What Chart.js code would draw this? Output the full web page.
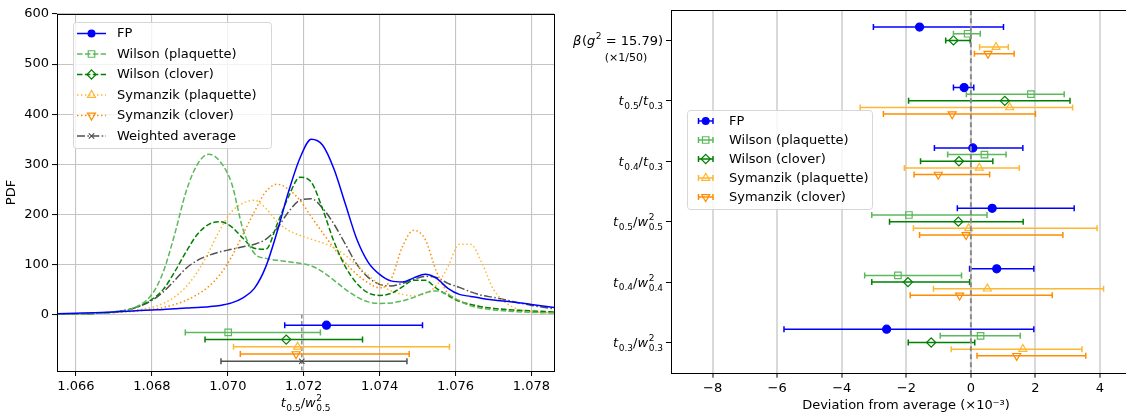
<!DOCTYPE html>
<html>
<head>
<meta charset="utf-8">
<script src="https://cdn.jsdelivr.net/npm/chart.js@4.4.1/dist/chart.umd.min.js"></script>
<style>
  html, body { margin: 0; padding: 0; background: #fff; overflow: hidden; width: 1126px; height: 417px; }
  #left { position: absolute; left: 0; top: 0; width: 560px; height: 417px; }
  #right { position: absolute; left: 560px; top: 0; width: 600px; height: 417px; }
</style>
</head>
<body>
<div id="left"><canvas id="pdf"></canvas></div>
<div id="right"><canvas id="dev"></canvas></div>
<script>
// ---- left panel: PDFs of t0.5/w0.5^2 ----
const seriesNames = ["FP", "Wilson (plaquette)", "Wilson (clover)", "Symanzik (plaquette)", "Symanzik (clover)", "Weighted average"];

const pdfX = [1.0655, 1.0660, 1.0665, 1.0670, 1.0675, 1.0680, 1.0683, 1.0686, 1.0689, 1.0692,
              1.0695, 1.0698, 1.0701, 1.0704, 1.0707, 1.0710, 1.0713, 1.0716, 1.0719, 1.0722,
              1.0725, 1.0728, 1.0731, 1.0734, 1.0737, 1.0740, 1.0743, 1.0746, 1.0749, 1.0752,
              1.0755, 1.0758, 1.0761, 1.0764, 1.0767, 1.0770, 1.0775, 1.0780, 1.0786];
const pdfFP = [1.5, 2.5, 3.5, 5, 7, 9, 10, 11.5, 13, 14,
               15.5, 18, 23, 33, 52, 95, 165, 245, 312, 350,
               338, 290, 220, 150, 104, 80, 67, 65, 73, 80,
               72, 52, 40, 36, 32, 29, 25, 20, 14];
const pdfWilsonPlaq = [0.5, 1, 2, 4, 12, 40, 85, 160, 245, 300,
                       320, 305, 262, 170, 122, 112, 108, 105, 102, 97,
                       85, 68, 50, 35, 25, 22, 23, 27, 34, 43,
                       47, 40, 27, 17, 12, 9, 6, 4, 3];
const pdfWilsonClov = [0.5, 1, 2, 5, 12, 30, 50, 85, 125, 160,
                       180, 185, 175, 152, 132, 130, 180, 235, 274, 264,
                       210, 145, 95, 62, 43, 38, 42, 55, 68, 68,
                       52, 38, 26, 20, 15, 12, 9, 7, 5];
const pdfSymPlaq = [0.5, 1, 2, 4, 8, 14, 22, 35, 55, 85,
                    125, 170, 205, 222, 228, 212, 185, 168, 158, 150,
                    143, 133, 118, 98, 78, 60, 47, 40, 37, 42,
                    58, 95, 140, 140, 102, 50, 15, 6, 3];
const pdfSymClov = [0.5, 1, 2, 4, 6, 10, 14, 20, 28, 40,
                    56, 80, 115, 160, 205, 245, 260, 250, 228, 195,
                    163, 132, 103, 80, 63, 53, 70, 135, 168, 150,
                    85, 42, 28, 20, 15, 12, 8, 5, 3];
const pdfAverage = [0.5, 1, 2, 5, 12, 28, 45, 68, 92, 108,
                    118, 125, 130, 135, 140, 150, 172, 205, 228, 231,
                    212, 180, 140, 100, 74, 60, 57, 62, 70, 76,
                    74, 62, 54, 45, 38, 34, 26, 18, 11];

// estimates with errors, same order as seriesNames
const estCenter = [1.07260, 1.07001, 1.07154, 1.07184, 1.07180, 1.07195];
const estLow    = [1.07150, 1.06888, 1.06940, 1.07015, 1.07033, 1.06982];
const estHigh   = [1.07513, 1.07244, 1.07355, 1.07584, 1.07478, 1.07472];

const pdfXTicks = [1.066, 1.068, 1.070, 1.072, 1.074, 1.076, 1.078];
const pdfYTicks = [0, 100, 200, 300, 400, 500, 600];

// ---- right panel: deviation from average (x1e-3) ----
const devCategories = ["\\beta(g^{2} = 15.79)", "t_{0.5}/t_{0.3}", "t_{0.4}/t_{0.3}",
                       "t_{0.5}/w^{2}_{0.5}", "t_{0.4}/w^{2}_{0.4}", "t_{0.3}/w^{2}_{0.3}"];
const devNotes = ["(×1/50)", "", "", "", "", ""];

const devFP     = [-1.59, -0.21,  0.06,  0.66,  0.80, -2.61];
const devFPLo   = [-3.02, -0.54, -1.13, -0.42, -0.04, -5.79];
const devFPHi   = [ 1.01,  0.09,  1.61,  3.20,  1.95,  1.95];
const devWP     = [-0.10,  1.86,  0.42, -1.92, -2.26,  0.30];
const devWPLo   = [-0.54, -0.14, -0.72, -3.07, -3.29, -0.95];
const devWPHi   = [ 0.29,  2.89,  1.09,  0.50, -0.29,  1.53];
const devWC     = [-0.54,  1.05, -0.37, -0.39, -1.95, -1.23];
const devWCLo   = [-0.78, -1.93, -1.56, -2.52, -3.07, -1.94];
const devWCHi   = [-0.02,  3.07,  0.68,  1.62, -0.04,  0.12];
const devSP     = [ 0.78,  1.20,  0.26, -0.07,  0.51,  1.61];
const devSPLo   = [ 0.27, -3.43, -2.06, -1.78, -1.16, -0.61];
const devSPHi   = [ 1.16,  3.15,  1.50,  3.91,  4.11,  3.44];
const devSC     = [ 0.53, -0.58, -1.01, -0.15, -0.35,  1.42];
const devSCLo   = [ 0.11, -2.71, -1.76, -1.59, -1.88,  0.19];
const devSCHi   = [ 1.34,  2.00,  0.58,  2.85,  2.52,  3.56];

const devXTicks = [-8, -6, -4, -2, 0, 2, 4];

// ---- styles ----
const FONT = '"DejaVu Sans"';
const styles = [
  { color: '#0000ff', dash: [], marker: 'circle', fill: true, r: 4 },
  { color: '#5cb85c', dash: [5.5, 2.4], marker: 'rect', fill: false, r: 4.6 },
  { color: '#008000', dash: [5.5, 2.4], marker: 'rectRot', fill: false, r: 4.6 },
  { color: '#ffb733', dash: [1.5, 2.5], marker: 'triangle', fill: false, r: 4.6, rot: 0 },
  { color: '#ff8c00', dash: [1.5, 2.5], marker: 'triangle', fill: false, r: 4.6, rot: 180 },
  { color: '#505050', dash: [8, 2.4, 1.5, 2.4], marker: 'crossRot', fill: false, r: 3.8 }
];

function drawMarker(ctx, st, x, y) {
  const r = st.r;
  ctx.save();
  ctx.setLineDash([]);
  ctx.strokeStyle = st.color;
  ctx.fillStyle = st.color;
  ctx.lineWidth = 1.2;
  ctx.translate(x, y);
  ctx.beginPath();
  if (st.marker === 'circle') {
    ctx.arc(0, 0, r, 0, Math.PI * 2);
  } else if (st.marker === 'rect') {
    const s = r * Math.SQRT1_2;
    ctx.rect(-s, -s, 2 * s, 2 * s);
  } else if (st.marker === 'rectRot') {
    ctx.moveTo(0, -r); ctx.lineTo(r, 0); ctx.lineTo(0, r); ctx.lineTo(-r, 0); ctx.closePath();
  } else if (st.marker === 'triangle') {
    ctx.rotate((st.rot || 0) * Math.PI / 180);
    for (let k = 0; k < 3; k++) {
      const a = k * 2 * Math.PI / 3;
      if (k === 0) ctx.moveTo(Math.sin(a) * r, -Math.cos(a) * r);
      else ctx.lineTo(Math.sin(a) * r, -Math.cos(a) * r);
    }
    ctx.closePath();
  } else if (st.marker === 'crossRot') {
    const s = r * Math.SQRT1_2;
    ctx.moveTo(-s, -s); ctx.lineTo(s, s); ctx.moveTo(-s, s); ctx.lineTo(s, -s);
  }
  if (st.fill) ctx.fill(); else ctx.stroke();
  ctx.restore();
}

// tiny TeX-ish renderer for axis labels: letters italic, ^{} sup, _{} sub
function parseMath(s) {
  s = s.replace('\\beta', 'β');
  const parts = [];
  let i = 0;
  while (i < s.length) {
    const c = s[i];
    if ((c === '^' || c === '_') && s[i + 1] === '{') {
      const j = s.indexOf('}', i);
      const txt = s.slice(i + 2, j);
      const kind = c === '^' ? 'sup' : 'sub';
      const prev = parts[parts.length - 1];
      if (prev && prev.k === 'sup' && kind === 'sub') {
        prev.k = 'ss'; prev.sup = prev.t; prev.sub = txt;
      } else {
        parts.push({ t: txt, k: kind });
      }
      i = j + 1;
    } else {
      parts.push({ t: c, k: /[a-zA-Zβ]/.test(c) ? 'i' : 'r' });
      i++;
    }
  }
  return parts;
}

function drawMath(ctx, s, x, base, align, size) {
  const parts = parseMath(s);
  const small = Math.round(size * 0.72);
  const fi = `italic ${size}px ${FONT}`, fr = `${size}px ${FONT}`, fs = `${small}px ${FONT}`;
  let w = 0;
  for (const p of parts) {
    if (p.k === 'ss') {
      ctx.font = fs;
      p.w = Math.max(ctx.measureText(p.sup).width, ctx.measureText(p.sub).width);
    } else {
      p.f = p.k === 'i' ? fi : p.k === 'r' ? fr : fs;
      ctx.font = p.f;
      p.w = ctx.measureText(p.t).width;
    }
    p.x = w;
    w += p.w + (p.k === 'i' ? 0.6 : 0);
  }
  const x0 = align === 'right' ? x - w : align === 'center' ? x - w / 2 : x;
  ctx.save();
  ctx.fillStyle = '#000';
  ctx.textAlign = 'left';
  ctx.textBaseline = 'alphabetic';
  for (const p of parts) {
    if (p.k === 'ss') {
      ctx.font = fs;
      ctx.fillText(p.sup, x0 + p.x, base - size * 0.45);
      ctx.fillText(p.sub, x0 + p.x, base + size * 0.32);
    } else {
      ctx.font = p.f;
      const dy = p.k === 'sub' ? size * 0.3 : p.k === 'sup' ? -size * 0.45 : 0;
      ctx.fillText(p.t, x0 + p.x, base + dy);
    }
  }
  ctx.restore();
}

function legendBox(ctx, x, y, w, h) {
  ctx.save();
  ctx.beginPath();
  ctx.roundRect(x + 0.5, y + 0.5, w, h, 3);
  ctx.fillStyle = 'rgba(255,255,255,0.8)';
  ctx.fill();
  ctx.strokeStyle = '#d6d6d6';
  ctx.lineWidth = 1;
  ctx.stroke();
  ctx.restore();
}

const framePlugin = {
  id: 'frame',
  afterDatasetsDraw(chart) {
    const { ctx, chartArea: a } = chart;
    ctx.save();
    ctx.strokeStyle = '#000';
    ctx.lineWidth = 1;
    ctx.strokeRect(Math.round(a.left) + 0.5, Math.round(a.top) + 0.5,
                   Math.round(a.right - a.left), Math.round(a.bottom - a.top));
    ctx.restore();
  }
};

// ---- left chart ----
const pdfSeries = [pdfFP, pdfWilsonPlaq, pdfWilsonClov, pdfSymPlaq, pdfSymClov, pdfAverage];
const pdfMin = -113, pdfMax = 600;
const errRowTop = -21.5, errRowStep = 14.4;

const pdfDatasets = [];
pdfSeries.forEach((vals, i) => {
  pdfDatasets.push({
    data: pdfX.map((x, k) => ({ x: x, y: vals[k] })),
    borderColor: styles[i].color,
    borderWidth: 1.5,
    borderDash: styles[i].dash,
    pointRadius: 0,
    cubicInterpolationMode: 'monotone',
    fill: false
  });
});
estCenter.forEach((c, i) => {
  const y = errRowTop - errRowStep * i;
  pdfDatasets.push({
    data: [{ x: estLow[i], y: y }, { x: estHigh[i], y: y }],
    borderColor: styles[i].color,
    borderWidth: 1.5,
    pointStyle: 'line',
    pointRotation: 90,
    pointRadius: 3,
    pointBorderColor: styles[i].color,
    pointBorderWidth: 1.5
  });
  pdfDatasets.push({
    data: [{ x: c, y: y }],
    showLine: false,
    pointStyle: styles[i].marker,
    pointRotation: styles[i].rot || 0,
    pointRadius: styles[i].r,
    pointBorderColor: styles[i].color,
    pointBackgroundColor: styles[i].fill ? styles[i].color : 'rgba(0,0,0,0)',
    pointBorderWidth: 1.2
  });
});
pdfDatasets.push({
  data: [{ x: estCenter[5], y: 0 }, { x: estCenter[5], y: pdfMin }],
  borderColor: '#8c8c8c',
  borderWidth: 1.5,
  borderDash: [4, 2.5],
  pointRadius: 0
});

const pdfLegendPlugin = {
  id: 'pdfLegend',
  afterDraw(chart) {
    const ctx = chart.ctx;
    legendBox(ctx, 73, 22, 198, 126);
    seriesNames.forEach((name, i) => {
      const y = 33.5 + 20.5 * i;
      const st = styles[i];
      ctx.save();
      ctx.strokeStyle = st.color;
      ctx.lineWidth = 1.5;
      ctx.setLineDash(st.dash);
      ctx.beginPath();
      ctx.moveTo(77, y); ctx.lineTo(106, y);
      ctx.stroke();
      ctx.restore();
      drawMarker(ctx, st, 91.5, y);
      ctx.save();
      ctx.font = `13px ${FONT}`;
      ctx.fillStyle = '#000';
      ctx.textBaseline = 'middle';
      ctx.fillText(name, 117, y + 0.5);
      ctx.restore();
    });
    const a = chart.chartArea;
    drawMath(ctx, 't_{0.5}/w^{2}_{0.5}', (a.left + a.right) / 2, 407, 'center', 13);
  }
};

new Chart(document.getElementById('pdf'), {
  type: 'line',
  data: { datasets: pdfDatasets },
  options: {
    responsive: true,
    maintainAspectRatio: false,
    animation: false,
    devicePixelRatio: 1,
    layout: { padding: { top: 14, right: 4, left: 0, bottom: 0 } },
    plugins: { legend: { display: false }, tooltip: { enabled: false } },
    scales: {
      x: {
        type: 'linear',
        min: 1.0655,
        max: 1.0786,
        afterBuildTicks: s => { s.ticks = pdfXTicks.map(v => ({ value: v })); },
        afterFit: s => { s.height = 46; },
        ticks: { callback: v => v.toFixed(3), color: '#000', font: { family: 'DejaVu Sans', size: 13 }, maxRotation: 0, autoSkip: false, padding: 3 },
        grid: { color: '#c4c4c4', lineWidth: 1.1, tickColor: '#000', tickLength: 5, tickWidth: 1 },
        border: { display: false }
      },
      y: {
        type: 'linear',
        min: pdfMin,
        max: pdfMax,
        afterBuildTicks: s => { s.ticks = pdfYTicks.map(v => ({ value: v })); },
        afterFit: s => { s.width = 57; },
        ticks: { color: '#000', font: { family: 'DejaVu Sans', size: 13 }, padding: 3 },
        grid: { color: '#c4c4c4', lineWidth: 1.1, tickColor: '#000', tickLength: 5, tickWidth: 1 },
        border: { display: false },
        title: { display: true, text: 'PDF', color: '#000', font: { family: 'DejaVu Sans', size: 13 }, padding: { top: 4, bottom: 0 } }
      }
    }
  },
  plugins: [framePlugin, pdfLegendPlugin]
});

// ---- right chart ----
const devSeries = [
  [devFP, devFPLo, devFPHi],
  [devWP, devWPLo, devWPHi],
  [devWC, devWCLo, devWCHi],
  [devSP, devSPLo, devSPHi],
  [devSC, devSCLo, devSCHi]
];
const rowOffset = 0.11;

const devDatasets = [{
  data: [{ x: 0, y: -0.5 }, { x: 0, y: 5.5 }],
  borderColor: '#8c8c8c',
  borderWidth: 2,
  borderDash: [5, 3],
  pointRadius: 0
}];
devSeries.forEach(([c, lo, hi], i) => {
  const off = (i - 2) * rowOffset;
  const bars = [];
  c.forEach((v, k) => {
    bars.push({ x: lo[k], y: k + off }, { x: hi[k], y: k + off }, { x: hi[k], y: null });
  });
  devDatasets.push({
    data: bars,
    spanGaps: false,
    borderColor: styles[i].color,
    borderWidth: 1.5,
    pointStyle: 'line',
    pointRotation: 90,
    pointRadius: 3,
    pointBorderColor: styles[i].color,
    pointBorderWidth: 1.5
  });
  devDatasets.push({
    data: c.map((v, k) => ({ x: v, y: k + off })),
    showLine: false,
    pointStyle: styles[i].marker,
    pointRotation: styles[i].rot || 0,
    pointRadius: styles[i].r,
    pointBorderColor: styles[i].color,
    pointBackgroundColor: styles[i].fill ? styles[i].color : 'rgba(0,0,0,0)',
    pointBorderWidth: 1.2
  });
});

const devDecorPlugin = {
  id: 'devDecor',
  afterDraw(chart) {
    const ctx = chart.ctx;
    const ys = chart.scales.y;
    const x = chart.chartArea.left - 8;
    devCategories.forEach((lab, i) => {
      const py = ys.getPixelForValue(i);
      drawMath(ctx, lab, x, py + 4.5, 'right', 13);
      if (devNotes[i]) {
        ctx.save();
        ctx.font = `11px ${FONT}`;
        ctx.fillStyle = '#000';
        ctx.textAlign = 'center';
        ctx.textBaseline = 'alphabetic';
        ctx.fillText(devNotes[i], x - 37, py + 21);
        ctx.restore();
      }
    });
    legendBox(ctx, 127, 110, 185, 99);
    seriesNames.slice(0, 5).forEach((name, i) => {
      const y = 121 + 19 * i;
      const st = styles[i];
      ctx.save();
      ctx.strokeStyle = st.color;
      ctx.lineWidth = 1.5;
      ctx.beginPath();
      ctx.moveTo(138.5, y); ctx.lineTo(153, y);
      ctx.moveTo(138.5, y - 3); ctx.lineTo(138.5, y + 3);
      ctx.moveTo(153, y - 3); ctx.lineTo(153, y + 3);
      ctx.stroke();
      ctx.restore();
      drawMarker(ctx, st, 145.7, y);
      ctx.save();
      ctx.font = `13px ${FONT}`;
      ctx.fillStyle = '#000';
      ctx.textBaseline = 'middle';
      ctx.fillText(name, 169, y + 0.5);
      ctx.restore();
    });
  }
};

new Chart(document.getElementById('dev'), {
  type: 'line',
  data: { datasets: devDatasets },
  options: {
    responsive: true,
    maintainAspectRatio: false,
    animation: false,
    devicePixelRatio: 1,
    layout: { padding: { top: 8, right: 19, left: 0, bottom: 0 } },
    plugins: { legend: { display: false }, tooltip: { enabled: false } },
    scales: {
      x: {
        type: 'linear',
        min: -9.29,
        max: 5.27,
        afterBuildTicks: s => { s.ticks = devXTicks.map(v => ({ value: v })); },
        afterFit: s => { s.height = 44.3; },
        ticks: { callback: v => String(v).replace('-', '−'), color: '#000', font: { family: 'DejaVu Sans', size: 13 }, maxRotation: 0, autoSkip: false, padding: 3 },
        grid: { color: '#d9d9d9', lineWidth: 2, tickColor: '#000', tickLength: 5, tickWidth: 1 },
        border: { display: false },
        title: { display: true, text: 'Deviation from average (×10⁻³)', color: '#000', font: { family: 'DejaVu Sans', size: 13 }, padding: { top: 0, bottom: 4 } }
      },
      y: {
        type: 'linear',
        reverse: true,
        min: -0.5,
        max: 5.5,
        afterBuildTicks: s => { s.ticks = devCategories.map((c, k) => ({ value: k })); },
        afterFit: s => { s.width = 111; },
        ticks: { callback: () => '', autoSkip: false },
        grid: { drawOnChartArea: false, color: '#000', tickColor: '#000', tickLength: 5, tickWidth: 1 },
        border: { display: false }
      }
    }
  },
  plugins: [framePlugin, devDecorPlugin]
});
</script>
</body>
</html>
